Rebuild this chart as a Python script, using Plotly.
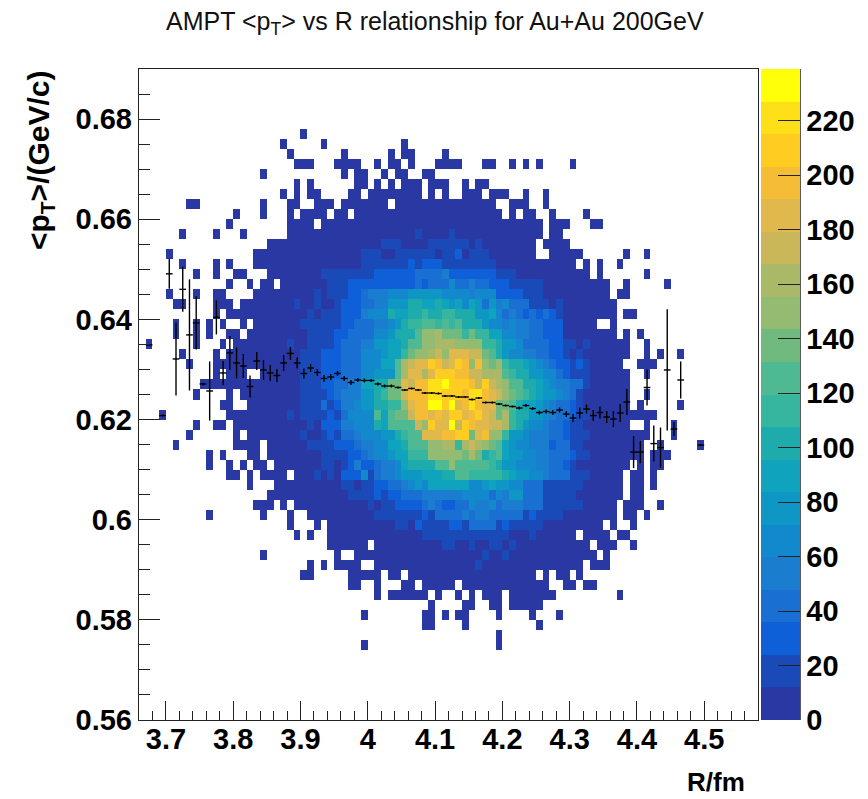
import plotly.graph_objects as go

TITLE = "AMPT &lt;p<sub>T</sub>&gt; vs R relationship for Au+Au 200GeV"
X_TITLE = "R/fm"
Y_TITLE = "&lt;p<sub>T</sub>&gt;/(GeV/c)"

N_COLS, N_ROWS = 92, 65
R_START, R_BIN = 3.66, 0.01
PT_START, PT_BIN = 0.56, 0.002
Z_MAX = 239.0

band_colors = ["#2a38a4", "#1a4ab8", "#0f5fd8", "#1a6fd2", "#1a7dd0", "#1289cc", "#0e97c5",
               "#10a3bd", "#1dabac", "#36b59f", "#4fb994", "#70ba80", "#93bc72", "#aab968",
               "#c9b75a", "#e0b84c", "#f5bd35", "#ffcc22", "#ffe018", "#ffff0a"]

# Rows, top row index 6 downwards. Token "col:levels": colour-band level
# of consecutive bins from that column ('.' empty, 0-9 a-j = band); last level runs on to the next token.
first_row = 6
rows = [
 "24:0.",
 "21:0. 27:0. 39:0.",
 "22:0. 30:0. 37:0. 39:00. 45:0.",
 "23:000. 29:0000. 35:0. 37:00. 40:0. 44:0000. 51:00. 55:0. 57:0. 59:0. 64:0.",
 "18:0. 30:0. 32:00. 36:0. 38:00. 42:00.",
 "23:0. 25:0. 32:00. 35:0. 37:0. 39:000. 43:000. 48:0. 50:00.",
 "21:0. 23:0. 25:00. 31:00. 34:0 42:. 43:0. 45:0. 48:0 51:. 52:0 55:. 57:0. 60:0.",
 "7:00. 18:0. 22:00. 26:000. 30:0 37:. 38:0 53:. 55:000. 60:0.",
 "14:0. 18:0. 22:0. 24:0 28:. 29:00. 32:0 54:. 55:0. 57:00. 61:0. 66:0.",
 "13:0. 22:0 26:. 27:0 60:. 61:000. 67:00.",
 "6:0. 11:0. 15:0. 22:0 41:1 42:0 46:1 47:0 60:. 61:00.",
 "19:0 36:1 39:0 43:1 49:0 50:1 51:0 59:. 60:0 64:.",
 "4:0. 17:0 33:1 36:0 38:1 44:0 45:1 47:2 48:0 49:1 52:0 59:. 61:0 66:. 72:0. 75:0.",
 "6:0. 11:0. 13:0. 17:0 33:1 40:2 41:1 42:2 45:1 53:0 65:. 66:0. 68:0. 71:0.",
 "8:0. 11:0. 14:00. 19:0 27:1 35:2 41:3 45:4 46:2 53:1 56:0 67:. 68:0. 75:0.",
 "13:0. 16:0. 18:00. 21:0 28:1 31:2 41:3 42:2 43:3 46:5 47:3 49:4 50:3 52:2 55:1 60:0 70:. 72:0. 78:0.",
 "4:0. 8:0. 11:00. 17:0 26:1 27:0 28:1 31:2 33:3 34:4 37:5 40:6 45:5 49:4 50:5 53:2 57:1 60:0 70:. 71:00.",
 "5:00. 11:000. 15:0 23:1 24:0 26:1 27:0 29:1 30:2 33:3 35:4 37:6 40:88 42:778 45:7 46:6 47:7 48:5 49:7 50:6 51:3 52:6 53:4 54:5 55:3 58:1 61:0 62:1 63:0 71:.",
 "11:0. 13:0 25:1 26:0 27:1 30:2 33:4 34:5 37:8 38:7 40:88 42:9 43:88 45:99 47:888 50:667 53:5 54:3 55:4 56:3 57:2 58:3 59:2 60:3 61:2 62:1 63:0 71:. 72:00.",
 "5:0. 8:0. 10:0. 12:0. 15:0. 17:0 24:1 30:2 32:3 35:4 37:5 38:6 39:8 40:99 42:aa 44:9 45:a 46:9 47:a 48:888 51:6 52:55 54:4 55:5 56:44 58:33 60:222 63:0 68:. 70:0 71:.",
 "5:0. 8:0. 10:0. 13:00. 16:0 25:1 29:2 31:3 35:5 37:6 38:88 40:8 41:a 42:cc 44:d 45:bbb 48:9 49:b 50:99 52:77 54:55 56:44 58:33 60:222 63:0 71:. 72:0. 74:0.",
 "1:0. 8:0. 12:0. 14:0 22:1 23:0 25:1 29:2 30:3 33:4 35:6 37:7 39:8 40:aa 42:cc 44:ddd 47:cccc 51:99 53:8 54:66 56:5 57:3 61:22 63:11 65:0 66:1 67:0 73:. 75:0.",
 "6:0. 11:0. 13:0 24:1 27:2 30:3 33:5 36:6 37:7 39:9 40:b 41:cc 43:d 44:e 45:c 46:fff 49:ee 51:b 52:a 53:8 54:6 55:55 57:44 59:33 61:22 63:1 64:0 65:1 66:0 73:. 75:0. 77:0. 80:0.",
 "7:0. 11:0 24:1 27:2 30:3 33:5 36:77 38:a 39:d 40:eff 43:hg 45:e 46:f 47:h 48:g 49:c 50:g 51:c 52:b 53:c 54:9 55:88 57:7 58:6 59:5 60:4 61:3 62:22 64:1 65:2 66:1 67:0 72:. 74:000 77:.",
 "11:0. 13:0 16:. 18:0 24:1 27:2 30:3 33:5 35:6 38:a 39:d 40:ff 42:d 43:f 44:hhh 47:gg 49:ee 51:ddd 54:a 55:9 56:88 58:66 60:55 62:3 63:2 64:111 67:0 73:. 75:0.",
 "9:0 24:1 27:2 29:3 31:4 33:7 35:8 37:b 39:f 40:e 41:gg 43:ii 45:j 46:hhh 49:g 50:e 51:h 52:e 53:d 54:c 55:aa 57:88 59:7 60:6 61:5 62:44 64:33 66:1 67:0 73:.",
 "8:0. 13:0. 15:0 24:1 28:2 29:3 30:4 33:6 35:8 36:9 37:bb 39:eggg 43:ii 45:hhh 48:g 49:ii 51:g 52:f 53:e 54:c 55:b 56:a 57:9 58:8 59:7 60:66 62:5 63:4 64:3 65:1 66:0 73:. 75:0.",
 "12:00. 16:0 24:1 27:3 28:1 29:2 30:4 32:5 33:6 35:8 37:9 39:cfgg 43:jj 45:h 46:j 47:f 48:g 49:i 50:g 51:ff 53:bb 55:a 56:8 57:77 59:6 60:5 61:4 62:33 64:2 65:1 66:0 73:. 74:0. 80:0.",
 "3:0. 13:0 22:1 23:0 24:1 28:2 29:1 30:3 31:5 35:a 36:7 37:a 38:b 39:begg 43:f 44:g 45:f 46:hh 48:f 49:g 50:h 51:f 52:e 53:b 54:d 55:9 56:88 58:66 60:5 61:4 62:33 64:2 65:11 67:0 77:.",
 "8:0. 11:00. 14:0 25:1 26:0 27:2 30:4 32:5 35:8 36:7 37:aa 41:e 42:c 43:h 44:ff 46:j 47:e 48:h 49:g 50:ff 52:ee 54:d 55:9 56:8 57:6 58:55 60:4 61:33 63:2 64:11 66:0 73:. 75:0. 79:0.",
 "7:0. 14:0. 16:0 24:1 25:0 27:1 28:2 29:1 30:3 32:4 33:5 36:6 38:8 39:9aa 42:fff 45:gg 47:hh 49:b 50:f 51:g 52:cc 54:9 55:66 57:5 58:444 61:33 63:2 64:111 67:0 76:. 79:0.",
 "5:0. 14:0 18:. 19:0 25:1 29:2 32:3 33:4 35:5 37:7 39:8aaa 43:cc 45:dd 47:9 48:d 49:e 50:d 51:c 52:b 53:a 54:7 55:6 56:55 58:444 61:2 62:33 64:11 66:0 75:. 77:0. 83:0.",
 "10:0. 12:0. 16:00. 19:0 27:1 31:2 33:3 34:4 35:5 37:6 38:7 39:7999 43:ccccc 48:b 49:d 50:b 51:8 52:9 53:a 54:7 55:66 57:55 59:44 61:333 64:2 65:11 67:0 75:. 76:000 79:.",
 "10:0. 13:0. 15:0. 17:00. 20:0 27:11 29:0 30:1 31:2 32:4 33:22 35:3 36:4 38:5 39:7 40:8888 44:aa 46:c 47:aaaaa 52:9 53:8 54:66 56:555 59:44 61:33 63:2 64:1 65:0 73:. 74:0. 76:00.",
 "13:00. 16:0. 18:0000. 23:0 26:1 27:0 28:1 29:0 30:222 33:5 34:1 35:3 36:4 38:5 39:666 42:777 45:88 47:aa 49:99999 54:8 55:7 56:66 58:55 60:4 61:333 64:111 67:0 72:. 73:00. 76:0.",
 "16:0. 20:0 30:11 32:0 33:11 35:22 37:33 39:4 40:5 41:6 42:5 43:777777 49:55 51:6 52:7 53:66 55:55 57:333 60:1 66:0 72:. 73:00. 76:0.",
 "19:0 31:1 35:2 36:1 37:2 39:3 42:4 48:5 52:3 53:5 54:4 55:6 57:3 60:1 65:0 72:. 73:00.",
 "17:000. 21:0. 23:0 34:1 35:0 36:1 38:2 42:3 43:4 44:3 45:2 47:3 49:5 50:44 52:5 53:3 54:4 57:3 60:1 66:0 71:. 72:000. 77:0.",
 "10:0. 18:0. 22:0. 25:0 35:1 42:2 43:1 44:3 48:4 49:3 50:4 52:3 57:1 58:2 59:1 63:0 71:. 72:00. 75:0.",
 "22:0. 26:0. 28:0 38:11 40:0 41:2 42:1 46:22 48:1 49:3 53:1 54:2 55:1 60:0 69:. 70:0. 73:0.",
 "23:0. 25:0. 28:0 42:1 55:0 58:1 59:0 65:. 66:0 70:. 71:00.",
 "28:0 34:. 35:0 45:11 47:0 49:1 50:0 52:11 54:0 55:1 56:0 67:. 68:0 71:. 73:0.",
 "18:0. 29:0. 32:0 51:1 52:0 54:1 55:0 68:. 69:0 70:.",
 "25:0. 27:0. 29:0 33:. 35:0 50:1 51:0 66:. 67:0 70:.",
 "24:00. 31:0 36:. 37:00. 40:0 59:. 60:0. 62:00. 65:0.",
 "31:00. 35:0. 39:00. 42:0 47:. 48:0 61:. 63:00. 66:00.",
 "35:0. 37:0 43:. 44:0. 47:0. 49:0. 51:000. 55:0 62:. 71:0.",
 "43:0. 48:00. 52:00. 55:0 60:.",
 "33:0. 42:00. 45:0. 47:00. 53:0. 58:0. 62:0.",
 "42:00. 48:0. 59:0.",
 "53:0.",
 "33:0. 53:0.",
]

# Profile: bin column, mean <pT>, error on the mean
profile_bin = [1, 3, 4, 5, 6, 7, 8, 9, 10, 11, 12, 13, 14, 15, 16, 17, 18, 19, 20, 21, 22, 23, 24,
               25, 26, 27, 28, 29, 30, 31, 32, 33, 34, 35, 36, 37, 38, 39, 40, 41, 42, 43, 44, 45,
               46, 47, 48, 49, 50, 51, 52, 53, 54, 55, 56, 57, 58, 59, 60, 61, 62, 63, 64, 65, 66,
               67, 68, 69, 70, 71, 72, 73, 74, 75, 76, 77, 78, 79, 80, 83]
profile_mean = [.6349, .6208, .6491, .6321, .6460, .6369, .6393, .6271, .6257, .6404, .6293, .6333,
                .6313, .6307, .6266, .6317, .6299, .6293, .6288, .6313, .6332, .6313, .6292, .6303,
                .6294, .6282, .6285, .6292, .6282, .6274, .6279, .6278, .6278, .6271, .6267, .6267,
                .6264, .6259, .6262, .6259, .6253, .6253, .6252, .6247, .6247, .6245, .6245, .6240,
                .6243, .6234, .6234, .6231, .6228, .6226, .6223, .6228, .6222, .6214, .6216, .6214,
                .6219, .6211, .6203, .6213, .6221, .6208, .6214, .6205, .6201, .6213, .6235, .6135,
                .6135, .6264, .6152, .6144, .6299, .6181, .6279, .6149]
profile_err = [.0002, .0002, .0030, .0073, .0045, .0111, .0053, .0003, .0059, .0034, .0024, .0034,
               .0031, .0024, .0022, .0018, .0020, .0016, .0013, .0016, .0013, .0011, .0010, .0008,
               .0007, .0007, .0006, .0005, .0005, .0005, .0004, .0004, .0003, .0003, .0003, .0003,
               .0002, .0002, .0002, .0002, .0002, .0002, .0002, .0002, .0002, .0002, .0002, .0002,
               .0002, .0002, .0002, .0002, .0002, .0002, .0003, .0003, .0003, .0004, .0004, .0005,
               .0005, .0006, .0008, .0011, .0009, .0011, .0012, .0012, .0016, .0018, .0026, .0032,
               .0022, .0036, .0036, .0040, .0121, .0014, .0037, .0002]

R_TICKS = [3.7, 3.8, 3.9, 4, 4.1, 4.2, 4.3, 4.4, 4.5]
PT_TICKS = [0.56, 0.58, 0.6, 0.62, 0.64, 0.66, 0.68]
Z_TICKS = list(range(0, 221, 20))


def decode(row):
    cells = [None] * N_COLS
    tokens = row.split()
    for i, tok in enumerate(tokens):
        col, levels = tok.split(":")
        col = int(col)
        stop = int(tokens[i + 1].split(":")[0]) if i + 1 < len(tokens) else N_COLS
        for j in range(col, stop):
            ch = levels[min(j - col, len(levels) - 1)]
            cells[j] = None if ch == "." else (int(ch, 20) + 0.5) * Z_MAX / 20
    return cells


grid = [[None] * N_COLS for _ in range(N_ROWS)]
for k, row in enumerate(rows):
    grid[N_ROWS - 1 - (first_row + k)] = decode(row)

scale = []
for i, c in enumerate(band_colors):
    scale += [[i / 20, c], [(i + 1) / 20, c]]

L, R, T, B = 138.5, 758.0, 68.5, 720.5
W, H = 868, 799
PW = W - L  # paper width: the plot domain stops short of it so the colour bar needs no margin


def px_x(p):
    return (p - L) / PW


def px_y(p):
    return (B - p) / (B - T)


heat = go.Heatmap(
    z=grid, x0=R_START + R_BIN / 2, dx=R_BIN, y0=PT_START + PT_BIN / 2, dy=PT_BIN,
    zmin=0, zmax=Z_MAX, colorscale=scale, hoverongaps=False,
    colorbar=dict(
        x=px_x(761), xref="paper", xanchor="left", xpad=0, y=0.5, yanchor="middle", ypad=0,
        len=1, lenmode="fraction", thickness=39, thicknessmode="pixels", outlinewidth=0,
        ticks="inside", ticklen=22, tickwidth=1.2, tickcolor="#222", tickvals=Z_TICKS,
        ticktext=[str(v) for v in Z_TICKS],
        tickfont=dict(family="Liberation Sans", size=29, color="black", weight="bold"),
    ),
)
prof = go.Scatter(
    x=[R_START + R_BIN * (b + 0.5) for b in profile_bin], y=profile_mean, mode="markers",
    marker=dict(size=1, color="black"),
    error_x=dict(type="constant", value=R_BIN / 2, color="black", thickness=1.4, width=0),
    error_y=dict(type="data", array=profile_err, color="black", thickness=1.4, width=0),
    showlegend=False,
)
fig = go.Figure([heat, prof])

tickfont = dict(family="Liberation Sans", size=29, color="black", weight="bold")
fig.update_layout(
    width=W, height=H, autosize=False, paper_bgcolor="white", plot_bgcolor="white", showlegend=False,
    margin=dict(l=L, r=0, t=T, b=H - B, pad=0, autoexpand=False),
    xaxis=dict(domain=[0, (R - L) / PW], range=[R_START, R_START + N_COLS * R_BIN], tickvals=R_TICKS,
               ticks="inside", ticklen=19, ticklabelstandoff=-7,
               tickwidth=1.2, tickcolor="#222", showline=True, mirror=True, linecolor="#222", linewidth=1.4,
               showgrid=False, zeroline=False, tickfont=tickfont,
               minor=dict(dtick=0.02, tick0=3.7, ticks="inside", ticklen=9, tickwidth=1.2, tickcolor="#222", showgrid=False)),
    yaxis=dict(range=[PT_START, PT_START + N_ROWS * PT_BIN], tickvals=PT_TICKS, ticks="inside", ticklen=21,
               tickwidth=1.2, tickcolor="#222", showline=True, mirror=True, linecolor="#222", linewidth=1.4,
               showgrid=False, zeroline=False, tickfont=tickfont,
               minor=dict(dtick=0.005, tick0=0.56, ticks="inside", ticklen=11, tickwidth=1.2, tickcolor="#222", showgrid=False)),
    annotations=[
        dict(text=TITLE, xref="paper", yref="paper", x=px_x(435), y=px_y(22),
             xanchor="center", yanchor="middle", showarrow=False,
             font=dict(family="Liberation Sans", size=25, color="#111")),
        dict(text=X_TITLE, xref="paper", yref="paper", x=px_x(747), y=px_y(783),
             xanchor="right", yanchor="middle", showarrow=False,
             font=dict(family="Liberation Sans", size=26, color="black", weight="bold")),
        dict(text=Y_TITLE, xref="paper", yref="paper", x=px_x(40), y=px_y(68),
             xanchor="center", yanchor="top", textangle=-90, showarrow=False,
             font=dict(family="Liberation Sans", size=30, color="black", weight="bold")),
    ],
    shapes=[dict(type="line", xref="paper", yref="paper", x0=px_x(800), x1=px_x(800),
                 y0=0, y1=1, line=dict(color="#222", width=1.4))],
)
fig.write_html("out.html", config=dict(displayModeBar=False),
               post_script="document.body.style.margin='0';document.body.style.overflow='hidden';")
